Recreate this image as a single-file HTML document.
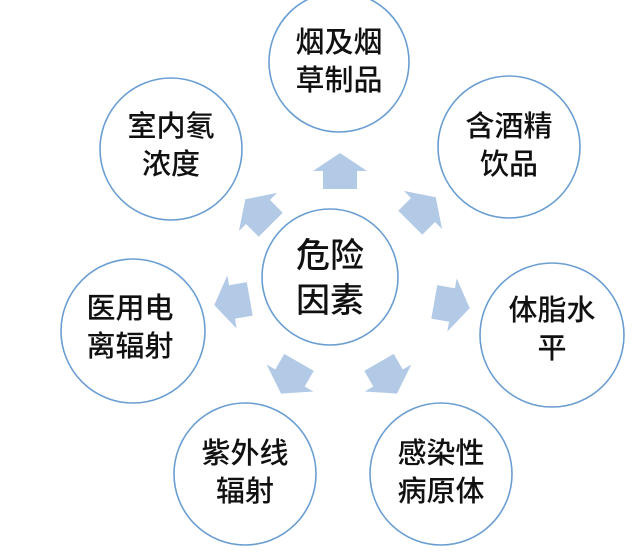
<!DOCTYPE html>
<html><head><meta charset="utf-8"><style>
html,body{margin:0;padding:0;background:#fff;}
svg text{font-family:"Liberation Sans","Noto Sans CJK SC",sans-serif;fill:#111;text-anchor:middle;font-weight:500;}
</style></head><body>
<svg width="644" height="552" viewBox="0 0 644 552" xmlns="http://www.w3.org/2000/svg">
<defs>
<polygon id="ar" points="0,-18 27,0 17,0 17,18 -17,18 -17,0 -27,0" fill="#b3cae7"/>
</defs>
<g>
<use href="#ar" transform="translate(340,171) rotate(0)"/>
<use href="#ar" transform="translate(423,210) rotate(45)"/>
<use href="#ar" transform="translate(452,305) rotate(100)"/>
<use href="#ar" transform="translate(388,378) rotate(150)"/>
<use href="#ar" transform="translate(290,378) rotate(-150)"/>
<use href="#ar" transform="translate(232,302) rotate(-100)"/>
<use href="#ar" transform="translate(258,212) rotate(-45)"/>
</g>
<g fill="#fff" stroke="#6a9ed2" stroke-width="1.6">
<circle cx="330" cy="277" r="68"/>
<circle cx="339" cy="62" r="70"/>
<circle cx="509" cy="147" r="71"/>
<circle cx="552" cy="335" r="72"/>
<circle cx="441" cy="474" r="71"/>
<circle cx="245" cy="474" r="71"/>
<circle cx="133" cy="331" r="72"/>
<circle cx="171" cy="149" r="71"/>
</g>
<g font-size="29">
<text x="330" y="267" font-size="34">危险</text>
<text x="330" y="312" font-size="34">因素</text>
<text x="339" y="52">烟及烟</text><text x="339" y="90">草制品</text>
<text x="509" y="136">含酒精</text><text x="509" y="174">饮品</text>
<text x="552" y="320">体脂水</text><text x="552" y="358">平</text>
<text x="441" y="463">感染性</text><text x="441" y="501">病原体</text>
<text x="245" y="463">紫外线</text><text x="245" y="501">辐射</text>
<text x="130" y="318">医用电</text><text x="130" y="356">离辐射</text>
<text x="171" y="136">室内氡</text><text x="171" y="174">浓度</text>
</g>
</svg>
</body></html>
